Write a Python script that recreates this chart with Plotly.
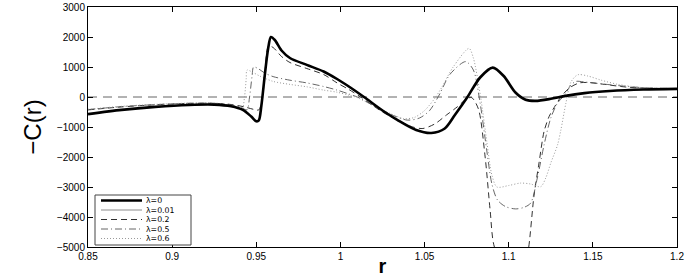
import plotly.graph_objects as go

# ---- data ----
r_l0 = [0.85, 0.87, 0.89, 0.91, 0.925, 0.935, 0.942, 0.947, 0.950, 0.9515, 0.953, 0.955, 0.957, 0.9587,
        0.961, 0.965, 0.970, 0.980, 0.990, 0.998, 1.005, 1.014, 1.025, 1.034, 1.045, 1.054, 1.062, 1.068,
        1.0755, 1.083, 1.0905, 1.097, 1.104, 1.110, 1.116, 1.125, 1.133, 1.145, 1.16, 1.18, 1.2]
c_l0 = [-570, -430, -330, -265, -255, -310, -430, -650, -810, -780, -300, 700, 1600, 2000,
        1900, 1550, 1300, 1070, 850, 600, 350, 0, -450, -770, -1100, -1200, -1050, -600,
        0, 650, 980, 700, 150, -90, -130, -60, 30, 130, 200, 250, 270]

r_l001 = [0.85, 0.87, 0.89, 0.91, 0.925, 0.935, 0.942, 0.947, 0.950, 0.9515, 0.953, 0.955, 0.957, 0.9585,
          0.961, 0.965, 0.970, 0.980, 0.990, 0.998, 1.005, 1.014, 1.025, 1.034, 1.045, 1.054, 1.062, 1.068,
          1.0755, 1.083, 1.0905, 1.097, 1.104, 1.110, 1.116, 1.125, 1.133, 1.145, 1.16, 1.18, 1.2]
c_l001 = [-565, -428, -328, -263, -253, -308, -428, -645, -800, -770, -290, 700, 1590, 1980,
          1880, 1540, 1290, 1065, 845, 598, 348, 0, -448, -768, -1095, -1195, -1045, -598,
          0, 645, 975, 698, 150, -88, -128, -58, 30, 130, 200, 250, 270]

r_l02 = [0.85, 0.87, 0.89, 0.91, 0.925, 0.935, 0.943, 0.949, 0.9515, 0.9535, 0.955, 0.9573,
         0.960, 0.965, 0.970, 0.980, 0.990, 0.998, 1.005, 1.012, 1.025, 1.035, 1.043, 1.049, 1.056,
         1.063, 1.0694, 1.075, 1.078, 1.082, 1.086, 1.089, 1.0915, 1.100, 1.1045, 1.109, 1.1119,
         1.115, 1.118, 1.121, 1.124, 1.127, 1.131, 1.136, 1.142, 1.148, 1.157, 1.17, 1.185, 1.2]
c_l02 = [-430, -330, -260, -215, -210, -250, -330, -420, -430, -100, 700, 1700,
         1650, 1350, 1150, 950, 750, 470, 250, 0, -500, -800, -1000, -1050, -900,
         -600, -330, -60, -20, -400, -2000, -3800, -5000, -5900, -6000, -5900, -5000,
         -3300, -2200, -1150, -650, -350, 0, 300, 470, 480, 420, 330, 290, 275]

r_l05 = [0.85, 0.87, 0.89, 0.91, 0.925, 0.935, 0.941, 0.9445, 0.946, 0.9475, 0.9484, 0.951, 0.955,
         0.960, 0.970, 0.980, 0.990, 0.998, 1.005, 1.010, 1.02, 1.03, 1.0397, 1.047, 1.053, 1.059,
         1.065, 1.0744, 1.079, 1.083, 1.087, 1.090, 1.0933, 1.098, 1.104, 1.109, 1.113, 1.117,
         1.121, 1.125, 1.129, 1.133, 1.137, 1.140, 1.145, 1.155, 1.165, 1.18, 1.2]
c_l05 = [-420, -320, -255, -210, -210, -260, -350, -430, 0, 700, 1000, 950, 800,
         680, 560, 470, 350, 230, 100, 0, -300, -580, -770, -700, -450, 100,
         750, 1180, 900, -200, -1800, -2900, -3430, -3650, -3730, -3680, -3540, -2700,
         -1600, -700, -200, 50, 400, 520, 500, 440, 380, 310, 280]

r_l06 = [0.85, 0.87, 0.89, 0.91, 0.925, 0.932, 0.938, 0.9415, 0.943, 0.944, 0.9445, 0.947, 0.952,
         0.960, 0.970, 0.980, 0.990, 0.998, 1.005, 1.010, 1.02, 1.03, 1.0375, 1.044, 1.050, 1.056,
         1.060, 1.067, 1.0764, 1.079, 1.0833, 1.087, 1.090, 1.093, 1.100, 1.107, 1.113, 1.119,
         1.122, 1.125, 1.129, 1.131, 1.134, 1.137, 1.141, 1.147, 1.155, 1.165, 1.18, 1.2]
c_l06 = [-410, -310, -245, -205, -205, -250, -340, -420, 0, 600, 900, 850, 700,
         520, 420, 340, 230, 160, 60, -20, -300, -560, -720, -680, -450, -50,
         300, 1000, 1620, 1300, 0, -1500, -2600, -3000, -2950, -2870, -2900, -2990,
         -2700, -2200, -1600, -1100, -200, 500, 740, 700, 560, 420, 310, 280]

series_names = ["λ=0", "λ=0.01", "λ=0.2", "λ=0.5", "λ=0.6"]
x_ticks = [0.85, 0.9, 0.95, 1, 1.05, 1.1, 1.15, 1.2]
x_tick_text = ["0.85", "0.9", "0.95", "1", "1.05", "1.1", "1.15", "1.2"]
y_ticks = [-5000, -4000, -3000, -2000, -1000, 0, 1000, 2000, 3000]
y_tick_text = ["\u22125000", "\u22124000", "\u22123000", "\u22122000", "\u22121000", "0", "1000", "2000", "3000"]

# ---- figure ----
W, H = 692, 277
ML, MR, MT, MB = 88, 15, 7, 30
PW, PH = W - ML - MR, H - MT - MB

styles = [
    dict(color="#000000", width=2.6, dash="solid"),
    dict(color="#8c8c8c", width=1.0, dash="solid"),
    dict(color="#1a1a1a", width=0.9, dash="6px,4px"),
    dict(color="#555555", width=0.9, dash="7px,3px,1px,3px"),
    dict(color="#9a9a9a", width=1.0, dash="1px,2px"),
]
xs = [r_l0, r_l001, r_l02, r_l05, r_l06]
ys = [c_l0, c_l001, c_l02, c_l05, c_l06]

fig = go.Figure()
fig.add_hline(y=0, line=dict(color="#555555", width=0.9, dash="9px,6px"), layer="below")
for i in [1, 2, 3, 4, 0]:
    fig.add_trace(go.Scatter(
        x=xs[i], y=ys[i], mode="lines", name=series_names[i], showlegend=False,
        line=dict(shape="spline", smoothing=0.8, **styles[i]),
    ))

# ---- legend box (drawn as shapes + real text) ----
def px_to_paper(px, py):
    return (px - ML) / PW, (H - MB - py) / PH

bx0, by0 = px_to_paper(95, 245)
bx1, by1 = px_to_paper(191, 195)
fig.add_shape(type="rect", xref="paper", yref="paper", x0=bx0, y0=by0, x1=bx1, y1=by1,
              line=dict(color="#444", width=1), fillcolor="white", layer="above")
row_y = [200.5, 210, 219.5, 229, 238.5]
for i, name in enumerate(series_names):
    sx0, sy = px_to_paper(101, row_y[i])
    sx1, _ = px_to_paper(142, row_y[i])
    st = styles[i]
    fig.add_shape(type="line", xref="paper", yref="paper", x0=sx0, x1=sx1, y0=sy, y1=sy,
                  line=dict(color=st["color"], width=st["width"], dash=st["dash"]), layer="above")
    tx, _ = px_to_paper(145, row_y[i])
    fig.add_annotation(x=tx, y=sy, xref="paper", yref="paper", text=name, showarrow=False,
                       xanchor="left", yanchor="middle", borderpad=0,
                       font=dict(family="DejaVu Sans, sans-serif", size=7.8, color="#000"))

axis_common = dict(
    showgrid=False, zeroline=False, showline=True, linecolor="#000", linewidth=1,
    mirror="ticks", ticks="inside", ticklen=5, tickcolor="#000",
    tickfont=dict(family="Liberation Sans, Arial, sans-serif", size=10, color="#000"),
)
fig.update_xaxes(range=[0.85, 1.2], tickvals=x_ticks, ticktext=x_tick_text,
                 title=dict(text="<b>r</b>", font=dict(family="Liberation Sans, Arial", size=20, color="#000"),
                            standoff=0),
                 **axis_common)
fig.update_yaxes(range=[-5000, 3000], tickvals=y_ticks, ticktext=y_tick_text,
                 title=dict(text="\u2212C(r)", font=dict(family="Liberation Sans, Arial", size=24, color="#000"),
                            standoff=8),
                 **axis_common)

fig.update_layout(
    width=W, height=H,
    margin=dict(l=ML, r=MR, t=MT, b=MB, autoexpand=False),
    paper_bgcolor="white", plot_bgcolor="white",
    showlegend=False,
)

fig.write_html("out.html", config={"displayModeBar": False},
               post_script="document.body.style.margin='0';")
